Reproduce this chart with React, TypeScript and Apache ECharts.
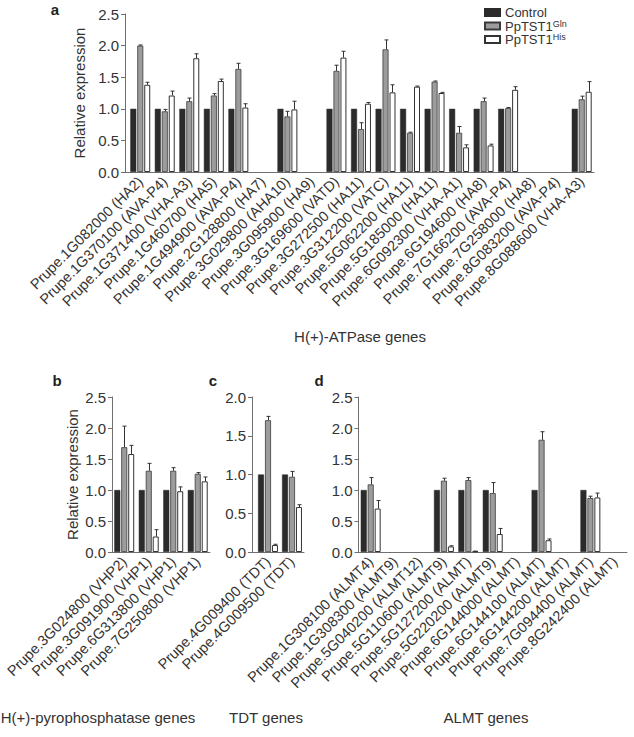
import React, { useEffect, useRef } from 'react';
import * as echarts from 'echarts';

const FONT = '"Liberation Sans", Arial, Helvetica, sans-serif';
const TXT = '#333333';
const AXIS = '#707070';

const legendNames = ['Control', 'PpTST1Gln', 'PpTST1His'];

// Panel a: H(+)-ATPase genes
const catsA = [
  'Prupe.1G082000 (HA2)', 'Prupe.1G370100 (AVA-P4)', 'Prupe.1G371400 (VHA-A3)', 'Prupe.1G460700 (HA5)',
  'Prupe.1G494900 (AVA-P4)', 'Prupe.2G128800 (HA7)', 'Prupe.3G029800 (AHA10)', 'Prupe.3G095900 (HA9)',
  'Prupe.3G169600 (VATD)', 'Prupe.3G272500 (HA11)', 'Prupe.3G312200 (VATC)', 'Prupe.5G062200 (HA11)',
  'Prupe.5G185000 (HA11)', 'Prupe.6G092300 (VHA-A1)', 'Prupe.6G194600 (HA8)', 'Prupe.7G166200 (AVA-P4)',
  'Prupe.7G258000 (HA8)', 'Prupe.8G083200 (AVA-P4)', 'Prupe.8G088600 (VHA-A3)'
];
const ctrlA = [1, 1, 1, 1, 1, null, 1, null, 1, 1, 1, 1, 1, 1, 1, 1, null, null, 1];
const glnA = [2.0, 0.96, 1.12, 1.21, 1.63, null, 0.88, null, 1.6, 0.68, 1.94, 0.62, 1.43, 0.62, 1.12, 1.01, null, null, 1.15];
const glnErrA = [0.01, 0.03, 0.05, 0.03, 0.09, null, 0.08, null, 0.09, 0.1, 0.15, 0.01, 0.01, 0.1, 0.05, 0.01, null, null, 0.05];
const hisA = [1.38, 1.21, 1.8, 1.44, 1.02, null, 0.99, null, 1.81, 1.08, 1.26, 1.35, 1.25, 0.39, 0.42, 1.3, null, null, 1.27];
const hisErrA = [0.04, 0.07, 0.07, 0.03, 0.06, null, 0.13, null, 0.1, 0.02, 0.12, 0.01, 0.01, 0.04, 0.02, 0.05, null, null, 0.16];

// Panel b: H(+)-pyrophosphatase genes
const catsB = ['Prupe.3G024800 (VHP2)', 'Prupe.3G091900 (VHP1)', 'Prupe.6G313800 (VHP1)', 'Prupe.7G250800 (VHP1)'];
const ctrlB = [1, 1, 1, 1];
const glnB = [1.69, 1.31, 1.31, 1.26];
const glnErrB = [0.34, 0.12, 0.05, 0.02];
const hisB = [1.58, 0.25, 0.98, 1.14];
const hisErrB = [0.14, 0.11, 0.07, 0.07];

// Panel c: TDT genes
const catsC = ['Prupe.4G009400 (TDT)', 'Prupe.4G009500 (TDT)'];
const ctrlC = [1, 1];
const glnC = [1.7, 0.97];
const glnErrC = [0.05, 0.07];
const hisC = [0.09, 0.58];
const hisErrC = [0.01, 0.03];

// Panel d: ALMT genes
const catsD = [
  'Prupe.1G308100 (ALMT4)', 'Prupe.1G308300 (ALMT9)', 'Prupe.5G040200 (ALMT12)', 'Prupe.5G110600 (ALMT9)',
  'Prupe.5G127200 (ALMT)', 'Prupe.5G220200 (ALMT9)', 'Prupe.6G144000 (ALMT)', 'Prupe.6G144100 (ALMT)',
  'Prupe.6G144200 (ALMT)', 'Prupe.7G094400 (ALMT)', 'Prupe.8G242400 (ALMT)'
];
const ctrlD = [1, null, null, 1, 1, 1, null, 1, null, 1, null];
const glnD = [1.09, null, null, 1.15, 1.16, 0.95, null, 1.81, null, 0.87, null];
const glnErrD = [0.11, null, null, 0.04, 0.04, 0.17, null, 0.13, null, 0.03, null];
const hisD = [0.7, null, null, 0.09, 0.01, 0.29, null, 0.19, null, 0.88, null];
const hisErrD = [0.13, null, null, 0.01, 0.005, 0.09, null, 0.02, null, 0.07, null];

const yMaxes = [2.5, 2.5, 2.0, 2.5];

const BAR_W = 6;
const BAR_GAP = 0.16;
const STEP = BAR_W * (1 + BAR_GAP);

const panels = [
  { cats: catsA, ctrl: ctrlA, gln: glnA, glnErr: glnErrA, his: hisA, hisErr: hisErrA },
  { cats: catsB, ctrl: ctrlB, gln: glnB, glnErr: glnErrB, his: hisB, hisErr: hisErrB },
  { cats: catsC, ctrl: ctrlC, gln: glnC, glnErr: glnErrC, his: hisC, hisErr: hisErrC },
  { cats: catsD, ctrl: ctrlD, gln: glnD, glnErr: glnErrD, his: hisD, hisErr: hisErrD }
];

const grids = [
  { left: 128, top: 14, width: 466, height: 158 },
  { left: 112, top: 397, width: 98, height: 155 },
  { left: 256, top: 397, width: 48, height: 155 },
  { left: 358.5, top: 397, width: 268.5, height: 155 }
];
const yOffsets = [3, 0, 4, 0];
const yNameGaps = [28, 32, 0, 0];

function errSeries(p: number, vals: (number | null)[], errs: (number | null)[], offset: number, name: string) {
  const data: number[][] = [];
  vals.forEach((v, i) => {
    if (v != null && errs[i] != null) data.push([i, v, errs[i] as number]);
  });
  return {
    type: 'custom',
    name,
    xAxisIndex: p,
    yAxisIndex: p,
    z: 5,
    encode: { x: 0, y: 1 },
    data,
    renderItem: (_params: any, api: any) => {
      const x = api.value(0);
      const v = api.value(1);
      const e = api.value(2);
      const p0 = api.coord([x, v]);
      const p1 = api.coord([x, v + e]);
      const cx = Math.round(p0[0] + offset) + 0.5;
      return {
        type: 'group',
        children: [
          { type: 'line', shape: { x1: cx, y1: p0[1], x2: cx, y2: p1[1] }, style: { stroke: '#333', lineWidth: 1 } },
          { type: 'line', shape: { x1: cx - 2, y1: p1[1], x2: cx + 2, y2: p1[1] }, style: { stroke: '#333', lineWidth: 1 } }
        ]
      };
    }
  };
}

const nz = (arr: (number | null)[]) => arr.map((v) => (v == null ? '-' : v));

function buildOption() {
  const series: any[] = [];
  panels.forEach((pd, p) => {
    series.push({
      type: 'bar', name: 'Control', xAxisIndex: p, yAxisIndex: p, data: nz(pd.ctrl),
      barWidth: BAR_W, barGap: BAR_GAP * 100 + '%',
      itemStyle: { color: '#2b2b2b', borderColor: '#2b2b2b', borderWidth: 0.5 }
    });
    series.push({
      type: 'bar', name: 'PpTST1Gln', xAxisIndex: p, yAxisIndex: p, data: nz(pd.gln),
      barWidth: BAR_W, barGap: BAR_GAP * 100 + '%',
      itemStyle: { color: '#9c9c9c', borderColor: '#3a3a3a', borderWidth: 0.8 }
    });
    series.push({
      type: 'bar', name: 'PpTST1His', xAxisIndex: p, yAxisIndex: p, data: nz(pd.his),
      barWidth: BAR_W, barGap: BAR_GAP * 100 + '%',
      itemStyle: { color: '#ffffff', borderColor: '#333333', borderWidth: 1 }
    });
    series.push(errSeries(p, pd.gln, pd.glnErr, 0, 'errGln' + p));
    series.push(errSeries(p, pd.his, pd.hisErr, STEP, 'errHis' + p));
  });

  const xAxis = panels.map((pd, p) => ({
    type: 'category',
    gridIndex: p,
    data: pd.cats,
    axisLine: { lineStyle: { color: AXIS, width: 1 } },
    axisTick: { alignWithLabel: true, length: 4, lineStyle: { color: AXIS } },
    axisLabel: { rotate: 45, interval: 0, fontSize: 14.5, color: TXT, fontFamily: FONT, margin: 7 },
    splitLine: { show: false }
  }));

  const yAxis = panels.map((_pd, p) => ({
    type: 'value',
    gridIndex: p,
    min: 0,
    max: yMaxes[p],
    interval: 0.5,
    offset: yOffsets[p],
    name: p < 2 ? 'Relative expression' : '',
    nameLocation: 'middle',
    nameGap: yNameGaps[p],
    nameTextStyle: { fontSize: 15, color: TXT, fontFamily: FONT },
    axisLine: { show: true, lineStyle: { color: AXIS, width: 1 } },
    axisTick: { show: true, length: 4, lineStyle: { color: AXIS } },
    axisLabel: { fontSize: 15, color: TXT, fontFamily: FONT, margin: 6, formatter: (v: number) => v.toFixed(1) },
    splitLine: { show: false }
  }));

  const graphic: any[] = [
    { type: 'text', x: 55, y: 9, style: { text: 'a', font: `bold 15px ${FONT}`, fill: '#222', textAlign: 'center', textVerticalAlign: 'middle' } },
    { type: 'text', x: 57, y: 380, style: { text: 'b', font: `bold 15px ${FONT}`, fill: '#222', textAlign: 'center', textVerticalAlign: 'middle' } },
    { type: 'text', x: 213, y: 380, style: { text: 'c', font: `bold 15px ${FONT}`, fill: '#222', textAlign: 'center', textVerticalAlign: 'middle' } },
    { type: 'text', x: 319, y: 380, style: { text: 'd', font: `bold 15px ${FONT}`, fill: '#222', textAlign: 'center', textVerticalAlign: 'middle' } },
    { type: 'text', x: 360, y: 336, style: { text: 'H(+)-ATPase genes', font: `15px ${FONT}`, fill: TXT, textAlign: 'center', textVerticalAlign: 'middle' } },
    { type: 'text', x: 98, y: 717, style: { text: 'H(+)-pyrophosphatase genes', font: `15px ${FONT}`, fill: TXT, textAlign: 'center', textVerticalAlign: 'middle' } },
    { type: 'text', x: 266, y: 717, style: { text: 'TDT genes', font: `15px ${FONT}`, fill: TXT, textAlign: 'center', textVerticalAlign: 'middle' } },
    { type: 'text', x: 486, y: 717, style: { text: 'ALMT genes', font: `15px ${FONT}`, fill: TXT, textAlign: 'center', textVerticalAlign: 'middle' } },
    // close the small gap between offset y-axes and x-axis lines
    { type: 'line', shape: { x1: 128 - yOffsets[0], y1: 172.5, x2: 128, y2: 172.5 }, style: { stroke: AXIS, lineWidth: 1 } },
    { type: 'line', shape: { x1: 256 - yOffsets[2], y1: 552.5, x2: 256, y2: 552.5 }, style: { stroke: AXIS, lineWidth: 1 } }
  ];

  return {
    animation: false,
    backgroundColor: '#ffffff',
    textStyle: { fontFamily: FONT },
    grid: grids,
    xAxis,
    yAxis,
    legend: {
      data: legendNames,
      orient: 'vertical',
      left: 479,
      top: 1,
      itemWidth: 15,
      itemHeight: 7,
      itemGap: 0,
      icon: 'rect',
      selectedMode: false,
      formatter: (name: string) => {
        if (name === 'Control') return '{m|Control}';
        if (name === 'PpTST1Gln') return '{m|PpTST1}{s|Gln}';
        return '{m|PpTST1}{s|His}';
      },
      textStyle: {
        color: TXT,
        fontFamily: FONT,
        rich: {
          m: { fontSize: 13, lineHeight: 14, color: TXT, fontFamily: FONT },
          s: { fontSize: 9, lineHeight: 9, verticalAlign: 'top', color: TXT, fontFamily: FONT }
        }
      }
    },
    graphic,
    series
  };
}

export default function App() {
  const ref = useRef<HTMLDivElement>(null);
  useEffect(() => {
    if (!ref.current) return;
    const chart = echarts.init(ref.current, null, { renderer: 'svg' });
    chart.setOption(buildOption() as any);
    return () => chart.dispose();
  }, []);
  return <div ref={ref} style={{ position: 'fixed', left: 0, top: 0, width: 634, height: 737, background: '#fff' }} />;
}
